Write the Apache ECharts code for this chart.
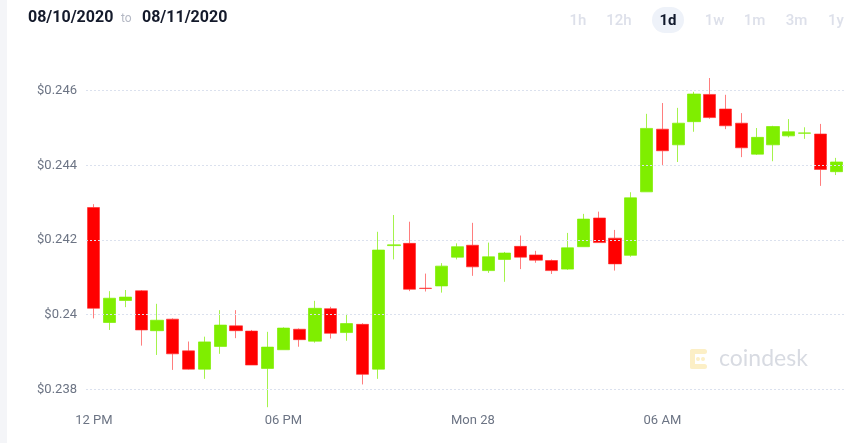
<!DOCTYPE html>
<html>
<head>
<meta charset="utf-8">
<script src="https://cdn.jsdelivr.net/npm/echarts@6/dist/echarts.min.js"></script>
<style>
html,body{margin:0;padding:0;background:#fff;}
#chart{width:864px;height:443px;}
</style>
</head>
<body>
<div id="chart"></div>
<script>
// 30-minute candles
const categories = ["12:00","12:30","13:00","13:30","14:00","14:30","15:00","15:30","16:00","16:30","17:00","17:30",
  "18:00","18:30","19:00","19:30","20:00","20:30","21:00","21:30","22:00","22:30","23:00","23:30",
  "00:00","00:30","01:00","01:30","02:00","02:30","03:00","03:30","04:00","04:30","05:00","05:30",
  "06:00","06:30","07:00","07:30","08:00","08:30","09:00","09:30","10:00","10:30","11:00","11:30"];

const opens = [0.24287,0.23979,0.24038,0.24064,0.23957,0.23988,0.23903,0.23854,0.23915,0.23970,0.23956,0.23856,
  0.23906,0.23961,0.23929,0.24016,0.23952,0.23974,0.23854,0.24185,0.24191,0.24071,0.24077,0.24154,
  0.24186,0.24118,0.24148,0.24183,0.24160,0.24145,0.24122,0.24182,0.24259,0.24205,0.24159,0.24329,
  0.24497,0.24455,0.24517,0.24590,0.24551,0.24513,0.24430,0.24455,0.24479,0.24486,0.24484,0.24383];

const closes = [0.24017,0.24044,0.24047,0.23959,0.23985,0.23895,0.23854,0.23927,0.23972,0.23957,0.23865,0.23913,
  0.23964,0.23933,0.24017,0.23950,0.23976,0.23840,0.24173,0.24187,0.24068,0.24070,0.24130,0.24182,
  0.24128,0.24155,0.24165,0.24154,0.24146,0.24118,0.24179,0.24256,0.24193,0.24136,0.24313,0.24499,
  0.24439,0.24513,0.24591,0.24528,0.24506,0.24447,0.24475,0.24504,0.24490,0.24487,0.24389,0.24409];

const lows = [0.23990,0.23959,0.24020,0.23917,0.23892,0.23852,0.23853,0.23828,0.23895,0.23937,0.23865,0.23752,
  0.23906,0.23914,0.23925,0.23936,0.23930,0.23813,0.23828,0.24148,0.24063,0.24062,0.24059,0.24148,
  0.24104,0.24112,0.24088,0.24122,0.24139,0.24109,0.24120,0.24182,0.24193,0.24118,0.24155,0.24329,
  0.24401,0.24409,0.24490,0.24525,0.24497,0.24422,0.24428,0.24411,0.24475,0.24471,0.24345,0.24374];

const highs = [0.24296,0.24063,0.24066,0.24066,0.24029,0.23990,0.23928,0.23941,0.24012,0.24012,0.23959,0.23954,
  0.23966,0.23963,0.24037,0.24021,0.24002,0.23977,0.24222,0.24267,0.24249,0.24110,0.24138,0.24191,
  0.24246,0.24193,0.24168,0.24212,0.24171,0.24148,0.24219,0.24270,0.24276,0.24227,0.24328,0.24538,
  0.24567,0.24554,0.24597,0.24634,0.24589,0.24540,0.24500,0.24506,0.24524,0.24502,0.24511,0.24420];

const xTickIndex = [0, 12, 24, 36];
const xTickLabels = ["12 PM", "06 PM", "Mon 28", "06 AM"];
const yTicks = [0.238, 0.240, 0.242, 0.244, 0.246];
const ranges = ["1h", "12h", "1d", "1w", "1m", "3m", "1y"];

const candleData = opens.map((o, i) => [o, closes[i], lows[i], highs[i]]);

const chart = echarts.init(document.getElementById('chart'), null, {renderer: 'canvas'});

const rangeX = [578, 619, 668, 714.5, 754.5, 796.5, 836];
const graphics = [
  {type: 'rect', shape: {x: 0, y: 0, width: 7, height: 443}, style: {fill: '#f4f5f8'}, silent: true},
  {type: 'text', x: 28, y: 18, style: {text: '08/10/2020', fontFamily: 'Roboto', fontSize: 16, fontWeight: 'bold', fill: '#141a2b', textVerticalAlign: 'middle'}},
  {type: 'text', x: 121, y: 19, style: {text: 'to', fontFamily: 'Roboto', fontSize: 12, fill: '#b4b8c4', textVerticalAlign: 'middle'}},
  {type: 'text', x: 142, y: 18, style: {text: '08/11/2020', fontFamily: 'Roboto', fontSize: 16, fontWeight: 'bold', fill: '#141a2b', textVerticalAlign: 'middle'}},
  {type: 'rect', shape: {x: 652, y: 7, width: 32, height: 26, r: 13}, style: {fill: '#eef2f9'}},
  // watermark
  {type: 'group', children: [
    {type: 'rect', shape: {x: 690, y: 349, width: 17, height: 5, r: 2.5}, style: {fill: '#fcefc6'}},
    {type: 'rect', shape: {x: 690, y: 349, width: 5, height: 20, r: 2.5}, style: {fill: '#fcefc6'}},
    {type: 'rect', shape: {x: 690, y: 364, width: 17, height: 5, r: 2.5}, style: {fill: '#fcefc6'}},
    {type: 'circle', shape: {cx: 703, cy: 359, r: 2}, style: {fill: '#fcefc6'}},
    {type: 'circle', shape: {cx: 698, cy: 359, r: 2}, style: {fill: '#fcefc6'}},
    {type: 'text', x: 719, y: 359, style: {text: 'coindesk', fontFamily: 'Lato', fontSize: 23, fill: '#d8dbe2', textVerticalAlign: 'middle'}}
  ]}
];
ranges.forEach((r, i) => {
  const active = r === '1d';
  graphics.push({type: 'text', x: rangeX[i], y: 21, style: {
    text: r, fontFamily: 'Roboto', fontSize: 15, fontWeight: active ? 'bold' : 500,
    fill: active ? '#10182b' : '#dde0ea', textAlign: 'center', textVerticalAlign: 'middle'}});
});

const option = {
  animation: false,
  backgroundColor: '#ffffff',
  grid: {left: 86, right: 20, top: 16.05, height: 447.9, containLabel: false, outerBoundsMode: 'none'},
  xAxis: {
    type: 'category',
    data: categories,
    boundaryGap: true,
    offset: -58,
    axisLine: {show: false},
    axisTick: {show: false},
    splitLine: {show: false},
    axisLabel: {
      interval: (idx) => xTickIndex.indexOf(idx) >= 0,
      formatter: (val, idx) => {
        const k = xTickIndex.indexOf(idx);
        return k >= 0 ? xTickLabels[k] : '';
      },
      color: '#6c7484',
      fontFamily: 'Roboto',
      fontSize: 13,
      margin: 8
    }
  },
  yAxis: {
    type: 'value',
    min: 0.236,
    max: 0.248,
    interval: 0.002,
    z: 3,
    axisLine: {show: false},
    axisTick: {show: false},
    axisLabel: {
      formatter: (v) => {
        const r = +(+v).toFixed(3);
        return yTicks.some(t => Math.abs(t - r) < 1e-9) ? '$' + r : '';
      },
      color: '#6c7484',
      fontFamily: 'Roboto',
      fontSize: 13,
      margin: 9
    },
    splitLine: {
      show: true,
      showMinLine: false,
      showMaxLine: false,
      lineStyle: {color: '#dbe1ee', type: [2, 2], width: 1}
    }
  },
  series: [{
    type: 'candlestick',
    data: candleData,
    barWidth: '80%',
    itemStyle: {
      color: '#7fee00',
      color0: '#ff0000',
      borderColor: 'rgba(127,238,0,0.7)',
      borderColor0: 'rgba(255,40,40,0.6)',
      borderWidth: 1
    }
  }],
  graphic: graphics
};
chart.setOption(option);
</script>
</body>
</html>
